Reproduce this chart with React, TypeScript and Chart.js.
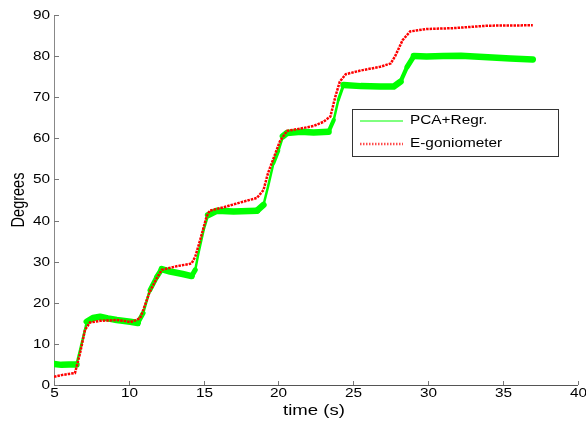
import React, { useEffect, useRef } from "react";
import { Chart, registerables } from "chart.js";

Chart.register(...registerables);

// PCA+Regr. (green) — time (s) / degrees
const pcaTime = [5.0, 5.5, 6.0, 6.5, 6.74, 7.07, 7.19, 7.6, 8.08, 8.6, 9.19, 10.1, 10.6, 10.96, 11.4, 11.87, 12.2, 12.76, 13.6, 14.2, 14.44, 14.65, 15.0, 15.3, 15.9, 17.0, 18.57, 19.0, 19.3, 19.67, 20.0, 20.3, 20.57, 21.5, 22.35, 23.35, 23.7, 24.0, 24.35, 25.5, 26.8, 27.7, 28.16, 28.6, 29.05, 29.9, 31.0, 32.2, 34.0, 35.5, 37.0];
const pcaDeg = [5.1, 4.9, 5.0, 5.0, 8.5, 13.4, 15.4, 16.3, 16.6, 16.2, 15.8, 15.4, 15.1, 17.5, 23.0, 26.3, 28.2, 27.6, 27.0, 26.5, 28.0, 32.0, 37.7, 41.3, 42.4, 42.2, 42.4, 43.8, 48.2, 54.0, 57.0, 60.5, 61.3, 61.6, 61.4, 61.6, 64.5, 69.3, 73.0, 72.7, 72.6, 72.6, 73.8, 77.4, 80.0, 79.9, 80.0, 80.1, 79.7, 79.4, 79.2];

// E-goniometer (red)
const gonioTime = [5.0, 5.5, 6.0, 6.4, 6.74, 7.07, 7.4, 8.08, 9.19, 9.7, 10.1, 10.5, 10.76, 10.96, 11.4, 11.87, 12.2, 13.2, 14.0, 14.2, 14.44, 14.77, 15.2, 15.4, 16.3, 17.65, 18.56, 19.0, 19.3, 19.8, 20.1, 20.57, 21.5, 22.35, 23.0, 23.47, 23.8, 24.1, 24.5, 25.5, 26.8, 27.5, 27.8, 28.3, 28.8, 29.9, 31.7, 34.0, 37.0];
const gonioDeg = [2.0, 2.4, 2.7, 2.9, 7.7, 13.4, 15.2, 15.6, 15.8, 15.6, 15.3, 15.8, 16.3, 18.2, 22.7, 26.0, 28.0, 28.9, 29.4, 29.6, 31.2, 35.3, 41.0, 42.4, 43.2, 44.6, 45.5, 47.4, 51.5, 56.4, 59.3, 61.8, 62.4, 63.0, 64.0, 65.3, 70.1, 73.8, 75.6, 76.5, 77.4, 78.2, 80.0, 83.9, 86.0, 86.6, 86.8, 87.4, 87.5];

const xTicks = [5, 10, 15, 20, 25, 30, 35, 40];
const yTicks = [0, 10, 20, 30, 40, 50, 60, 70, 80, 90];
const seriesNames = ["PCA+Regr.", "E-goniometer"];
const xTitle = "time (s)";
const yTitle = "Degrees";

const GREEN = "#00ff00";
const RED = "#ff0000";
const FONT = "'Liberation Sans', Arial, sans-serif";
const SX = 1.28;

function drawText(ctx: CanvasRenderingContext2D, text: string, x: number, y: number, align: CanvasTextAlign, size: number) {
  ctx.save();
  ctx.translate(x, y);
  ctx.scale(SX, 1);
  ctx.font = `${size}px ${FONT}`;
  ctx.textAlign = align;
  ctx.textBaseline = "middle";
  ctx.fillStyle = "#000";
  ctx.fillText(text, 0, 0);
  ctx.restore();
}

const decorPlugin = {
  id: "decor",
  afterDraw(chart: any) {
    const ctx: CanvasRenderingContext2D = chart.ctx;
    const xs = chart.scales.x;
    const ys = chart.scales.y;
    const ca = chart.chartArea;
    ctx.save();
    ctx.strokeStyle = "#777";
    ctx.lineWidth = 1;
    yTicks.forEach((v) => {
      const y = Math.round(ys.getPixelForValue(v)) + 0.5;
      ctx.beginPath();
      ctx.moveTo(ca.left, y);
      ctx.lineTo(ca.left + 5, y);
      ctx.stroke();
      drawText(ctx, String(v), ca.left - 4, y, "right", 12);
    });
    xTicks.forEach((v) => {
      const x = Math.round(xs.getPixelForValue(v)) + 0.5;
      ctx.beginPath();
      ctx.moveTo(x, ca.bottom);
      ctx.lineTo(x, ca.bottom - 4);
      ctx.stroke();
      drawText(ctx, String(v), x, ca.bottom + 9, "center", 12);
    });
    drawText(ctx, xTitle, 314, ca.bottom + 26, "center", 14.5);
    ctx.save();
    ctx.translate(18.5, 200);
    ctx.rotate(-Math.PI / 2);
    ctx.scale(1, SX);
    ctx.font = `14.5px ${FONT}`;
    ctx.textAlign = "center";
    ctx.textBaseline = "middle";
    ctx.fillStyle = "#000";
    ctx.fillText(yTitle, 0, 0);
    ctx.restore();

    const lx = ca.left + 298;
    const ly = ca.top + 94;
    ctx.fillStyle = "#fff";
    ctx.fillRect(lx, ly, 206, 47);
    ctx.strokeStyle = "#333";
    ctx.lineWidth = 1;
    ctx.strokeRect(lx + 0.5, ly + 0.5, 206, 47);
    ctx.strokeStyle = GREEN;
    ctx.lineWidth = 1;
    ctx.beginPath();
    ctx.moveTo(lx + 8, ly + 12);
    ctx.lineTo(lx + 51, ly + 12);
    ctx.stroke();
    drawText(ctx, seriesNames[0], lx + 58, ly + 12, "left", 12);
    ctx.strokeStyle = RED;
    ctx.globalAlpha = 0.7;
    ctx.lineWidth = 2.5;
    ctx.setLineDash([1.5, 1.5]);
    ctx.beginPath();
    ctx.moveTo(lx + 8, ly + 35);
    ctx.lineTo(lx + 51, ly + 35);
    ctx.stroke();
    ctx.setLineDash([]);
    ctx.globalAlpha = 1;
    drawText(ctx, seriesNames[1], lx + 58, ly + 35, "left", 12);
    ctx.restore();
  },
};

function widthForSlope(c: any) {
  const dy = Math.abs(c.p1.parsed.y - c.p0.parsed.y);
  const dx = Math.abs(c.p1.parsed.x - c.p0.parsed.x) || 1e-6;
  const s = dy / dx;
  if (s <= 3) return 6.5;
  if (s >= 12) return 2.5;
  return 6.5 - ((s - 3) / 9) * 4;
}

export default function App() {
  const ref = useRef<HTMLCanvasElement | null>(null);
  useEffect(() => {
    if (!ref.current) return;
    const pcaData = pcaTime.map((t, i) => ({ x: t, y: pcaDeg[i] }));
    const gonioData = gonioTime.map((t, i) => ({ x: t, y: gonioDeg[i] }));
    const chart = new Chart(ref.current, {
      type: "line",
      data: {
        datasets: [
          {
            label: seriesNames[1],
            data: gonioData,
            borderColor: RED,
            borderWidth: 2.5,
            borderDash: [2.5, 1],
            pointRadius: 0,
            tension: 0,
            order: 0,
          },
          {
            label: seriesNames[0],
            data: pcaData,
            borderColor: GREEN,
            borderWidth: 6,
            pointRadius: 0,
            tension: 0,
            order: 1,
            borderJoinStyle: "round",
            borderCapStyle: "round",
            segment: {
              borderWidth: widthForSlope,
              borderCapStyle: () => "round",
              borderJoinStyle: () => "round",
            },
          },
        ],
      },
      options: {
        animation: false,
        responsive: false,
        devicePixelRatio: 1,
        parsing: false as any,
        layout: { padding: { left: 54, top: 15, right: 8.3, bottom: 39 } },
        plugins: { legend: { display: false }, tooltip: { enabled: false } },
        scales: {
          x: {
            type: "linear",
            min: 5,
            max: 40,
            ticks: { display: false },
            grid: { display: false, drawTicks: false },
            border: { display: true, color: "#555", width: 1 },
            afterFit: (s: any) => { s.height = 0; },
          },
          y: {
            type: "linear",
            min: 0,
            max: 90,
            ticks: { display: false },
            grid: { display: false, drawTicks: false },
            border: { display: true, color: "#888", width: 1 },
            afterFit: (s: any) => { s.width = 0; },
          },
        },
      },
      plugins: [decorPlugin],
    });
    return () => chart.destroy();
  }, []);
  return (
    <div style={{ position: "absolute", left: 0, top: 0, width: 586, height: 424, background: "#fff" }}>
      <canvas ref={ref} width={586} height={424} />
    </div>
  );
}
